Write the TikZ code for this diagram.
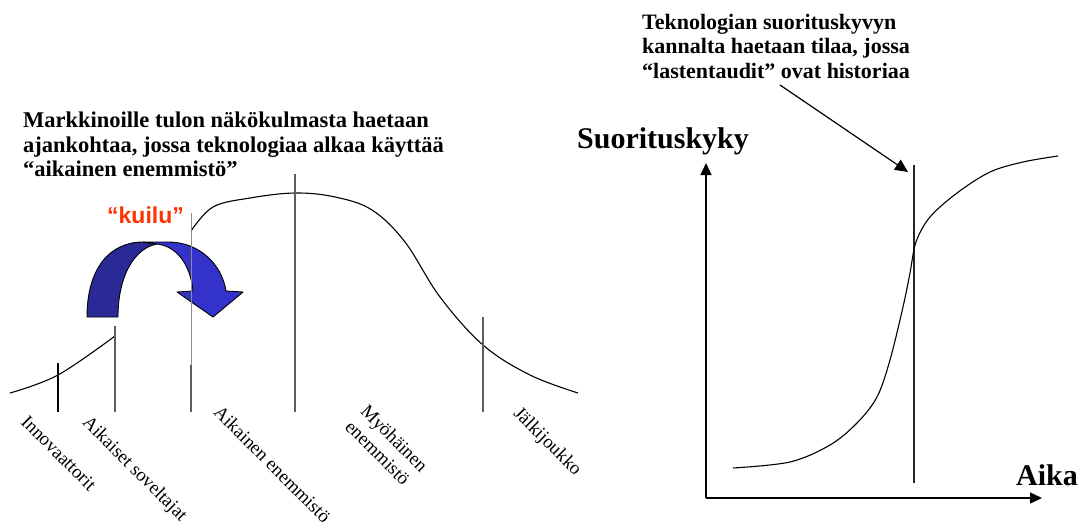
\documentclass[tikz,border=0pt]{standalone}
\usepackage{fontspec}
\setmainfont{Liberation Serif}[BoldFont={Liberation Serif Bold}]
\newfontfamily\headfont{Liberation Serif Bold}
\newfontfamily\arialfont{Liberation Sans}
\usetikzlibrary{arrows.meta}
\definecolor{arrowdark}{RGB}{42,42,150}
\definecolor{arrowlight}{RGB}{51,51,204}
\definecolor{gapred}{RGB}{255,51,0}
\definecolor{tickgray}{RGB}{95,95,95}
\definecolor{ticklight}{RGB}{140,140,140}
\tikzset{
  heading/.style={anchor=north west, inner sep=0pt, align=left,
    font=\headfont\fontsize{22}{24.5}\selectfont},
  segment/.style={anchor=north west, inner sep=0pt, rotate=-45, align=left,
    font=\fontsize{18.8}{22}\selectfont},
  axislabel/.style={anchor=base west, inner sep=0pt,
    font=\headfont\fontsize{30}{30}\selectfont},
  divider/.style={draw=tickgray, line width=1.3pt},
  curve/.style={draw=black, line width=1.1pt},
  axis/.style={draw=black, line width=1.4pt, -{Triangle[length=12pt,width=11pt]}},
  pointer/.style={draw=black, line width=1.2pt, -{Triangle[length=13pt,width=12pt]}},
  band/.style={draw=black, line width=0.9pt, line join=round},
}
\begin{document}
\begin{tikzpicture}[x=1pt,y=-1pt]
\path[use as bounding box, fill=white] (0,0) rectangle (1082,530);

% ---------- adoption curve ----------
\draw[curve] plot[smooth, tension=0.6] coordinates {(10,393) (58,375) (115,336)};
\draw[curve] plot[smooth, tension=0.6] coordinates
  {(191,231) (213,207) (250,198) (295,193) (335,197) (372,210) (405,242)
   (440,297) (483,345) (530,375) (578,393)};

% segment dividers
\draw[draw=black, line width=1.1pt] (58,363) -- (58,412);
\draw[divider] (115,326) -- (115,412);
\draw[divider] (295,174) -- (295,412);
\draw[divider] (483,317) -- (483,412);

% ---------- the "chasm" arrow ----------
\filldraw[band, fill=arrowdark] (87,317) .. controls (87,268) and (110,242) .. (143,242)
  -- (157,244) .. controls (135,248) and (118,275) .. (118,317) -- cycle;
\filldraw[band, fill=arrowlight] (143,242) -- (168,242)
  .. controls (200,242) and (222,265) .. (226,291)
  -- (243,292) -- (213,317) -- (177,292) -- (193,291)
  .. controls (190,262) and (175,246) .. (157,244) -- cycle;

% divider of the early majority, crossing the arrow
\draw[draw=ticklight, line width=0.8pt] (191,213) -- (191,365);
\draw[divider] (191,365) -- (191,412);

\node[anchor=base west, inner sep=0pt, text=gapred,
  font=\arialfont\bfseries\fontsize{23}{23}\selectfont] (gap) at (107,223) {“kuilu”};

\node[heading, font=\headfont\fontsize{22.5}{24.5}\selectfont] (market) at (23,112)
  {Markkinoille tulon näkökulmasta haetaan\\
   ajankohtaa, jossa teknologiaa alkaa käyttää\\
   “aikainen enemmistö”};

% segment names
\node[segment] (innov) at (29,414) {Innovaattorit};
\node[segment] (early) at (91,414) {Aikaiset soveltajat};
\node[segment] (majority) at (222,404) {Aikainen enemmistö};
\node[segment] (late) at (369,403) {Myöhäinen\\enemmistö};
\node[segment] (laggards) at (522,405) {Jälkijoukko};

% ---------- performance S-curve ----------
\coordinate (origin) at (706,498);
\coordinate (ytip) at (706,163);
\coordinate (xtip) at (1042,498);
\draw[axis] (origin) -- (ytip);
\draw[axis] (origin) -- (xtip);

\coordinate (marktop) at (914,165);
\coordinate (markbot) at (914,483);
\draw[draw=black!85, line width=1.4pt] (marktop) -- (markbot);

\draw[curve] plot[smooth, tension=0.55] coordinates
  {(733,468) (790,462) (830,445) (857,423) (877,397) (890,360) (903,307)
   (910,273) (916,242) (930,217) (957,193) (990,172) (1023,162) (1058,156)};

\node[axislabel] (perf) at (577,148) {Suorituskyky};
\node[axislabel] (time) at (1016,485) {Aika};

\node[heading] (tech) at (642,14)
  {Teknologian suorituskyvyn\\
   kannalta haetaan tilaa, jossa\\
   “lastentaudit” ovat historiaa};
\coordinate (pstart) at (780,85);
\coordinate (pend) at (908,172);
\draw[pointer] (pstart) -- (pend);
\end{tikzpicture}
\end{document}
